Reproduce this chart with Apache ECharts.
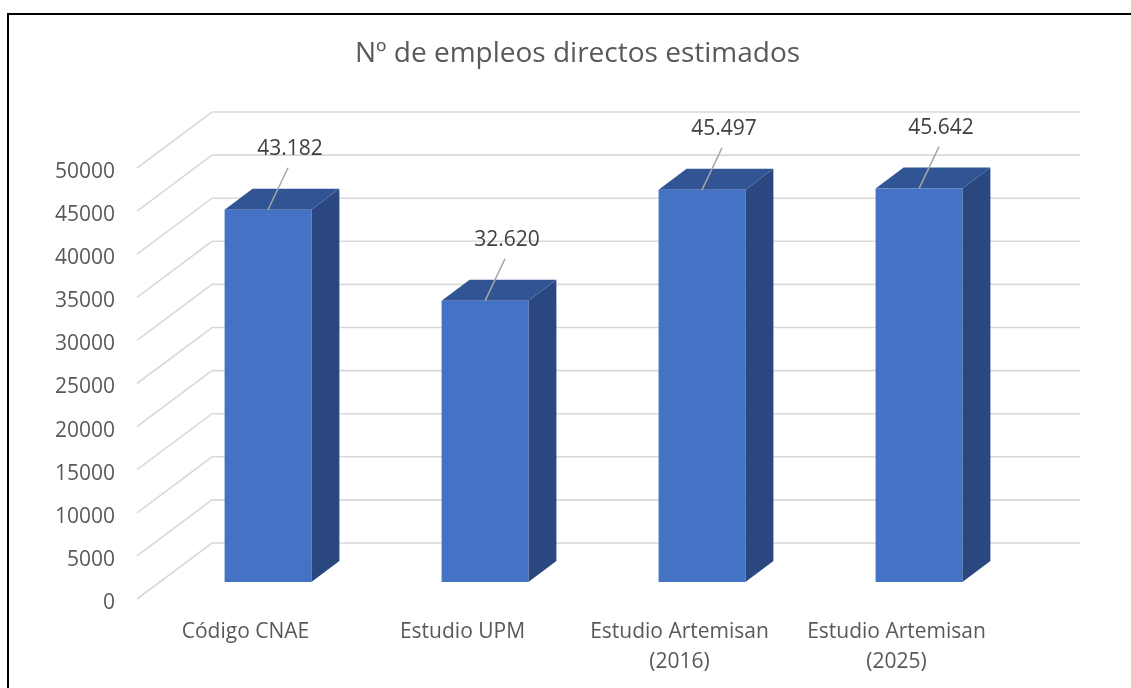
<!DOCTYPE html>
<html>
<head>
<meta charset="utf-8">
<title>Nº de empleos directos estimados</title>
<script src="https://cdn.jsdelivr.net/npm/echarts@6/dist/echarts.min.js"></script>
<style>
  html, body { margin: 0; padding: 0; background: #fff; }
  #chart { width: 1131px; height: 688px; }
  .frame { position: absolute; left: 7px; top: 13px; right: -4px; bottom: -4px; border: 2px solid #000; pointer-events: none; }
</style>
</head>
<body>
<div id="chart"></div>
<div class="frame"></div>
<script>
// data
const categories = ['Código CNAE', 'Estudio UPM', 'Estudio Artemisan (2016)', 'Estudio Artemisan (2025)']
const values = [43182, 32620, 45497, 45642]
const yTicks = [0, 5000, 10000, 15000, 20000, 25000, 30000, 35000, 40000, 45000, 50000]

// fake 3D: how far the back wall / bar faces sit behind the axis plane
const WALL_X = 75
const WALL_Y = -56
const FRONT_X = 22.5
const FRONT_Y = -17
const SIDE_X = 28
const SIDE_Y = -21

const font = "'Open Sans', 'Noto Sans', sans-serif"
const textColor = '#595959'

function fmt (v) {
  return String(v).replace(/\B(?=(\d{3})+(?!\d))/g, '.')
}

const chart = echarts.init(document.getElementById('chart'), null, { renderer: 'canvas' })

chart.setOption({
  animation: false,
  backgroundColor: '#fff',
  title: {
    text: 'Nº de empleos directos estimados',
    left: 350,
    top: 35,
    textStyle: {
      fontFamily: font,
      fontSize: 28,
      fontWeight: 'normal',
      color: textColor
    }
  },
  grid: {
    left: 137,
    right: 126,
    top: 168,
    bottom: 89
  },
  xAxis: {
    type: 'category',
    data: categories,
    axisLine: { show: false },
    axisTick: { show: false },
    axisLabel: {
      margin: 18,
      fontFamily: font,
      fontSize: 21,
      lineHeight: 30,
      color: textColor,
      interval: 0,
      formatter: v => v.replace(' (', '\n(')
    }
  },
  yAxis: {
    type: 'value',
    min: 0,
    max: 50000,
    interval: 5000,
    axisLine: { show: false },
    axisTick: { show: false },
    splitLine: { show: false },
    axisLabel: {
      margin: 22,
      fontFamily: font,
      fontSize: 21,
      color: textColor,
      formatter: v => '{n|' + v + '}',
      rich: {
        n: {
          fontFamily: font,
          fontSize: 21,
          color: textColor,
          padding: [8, 0, 0, 0]
        }
      }
    }
  },
  series: [
    {
      // floor diagonal + back wall line for each tick
      type: 'custom',
      silent: true,
      z: 1,
      data: yTicks.map(t => [0, t]),
      renderItem (params, api) {
        const p = api.coord([0, api.value(1)])
        const band = api.size([1, 0])[0]
        const left = p[0] - band / 2
        const right = left + band * categories.length
        return {
          type: 'polyline',
          shape: {
            points: [
              [left, p[1]],
              [left + WALL_X, p[1] + WALL_Y],
              [right + WALL_X, p[1] + WALL_Y]
            ]
          },
          style: { stroke: '#d9d9d9', lineWidth: 1.6, fill: null }
        }
      }
    },
    {
      type: 'custom',
      z: 2,
      data: values.map((v, i) => [i, v]),
      renderItem (params, api) {
        const i = api.value(0)
        const v = api.value(1)
        const top = api.coord([i, v])
        const base = api.coord([i, 0])
        const w = api.size([1, 0])[0] * 0.4
        const x0 = top[0] - w / 2 + FRONT_X
        const y0 = top[1] + FRONT_Y
        const yb = base[1] + FRONT_Y
        const cx = x0 + w / 2
        return {
          type: 'group',
          children: [
            {
              type: 'polygon',
              shape: { points: [[x0 + w, y0], [x0 + w + SIDE_X, y0 + SIDE_Y], [x0 + w + SIDE_X, yb + SIDE_Y], [x0 + w, yb]] },
              style: { fill: '#2a487f' }
            },
            {
              type: 'polygon',
              shape: { points: [[x0, y0], [x0 + w, y0], [x0 + w + SIDE_X, y0 + SIDE_Y], [x0 + SIDE_X, y0 + SIDE_Y]] },
              style: { fill: '#315594' }
            },
            {
              type: 'rect',
              shape: { x: x0, y: y0, width: w, height: yb - y0 },
              style: { fill: '#4472c4' }
            },
            {
              type: 'line',
              shape: { x1: cx, y1: y0, x2: cx + 20, y2: y0 - 42 },
              style: { stroke: '#a6a6a6', lineWidth: 1.5 }
            },
            {
              type: 'text',
              style: {
                x: cx + 22,
                y: y0 - 61,
                text: fmt(v),
                align: 'center',
                verticalAlign: 'middle',
                fontFamily: font,
                fontSize: 21,
                fill: '#404040'
              }
            }
          ]
        }
      }
    }
  ]
})
</script>
</body>
</html>
